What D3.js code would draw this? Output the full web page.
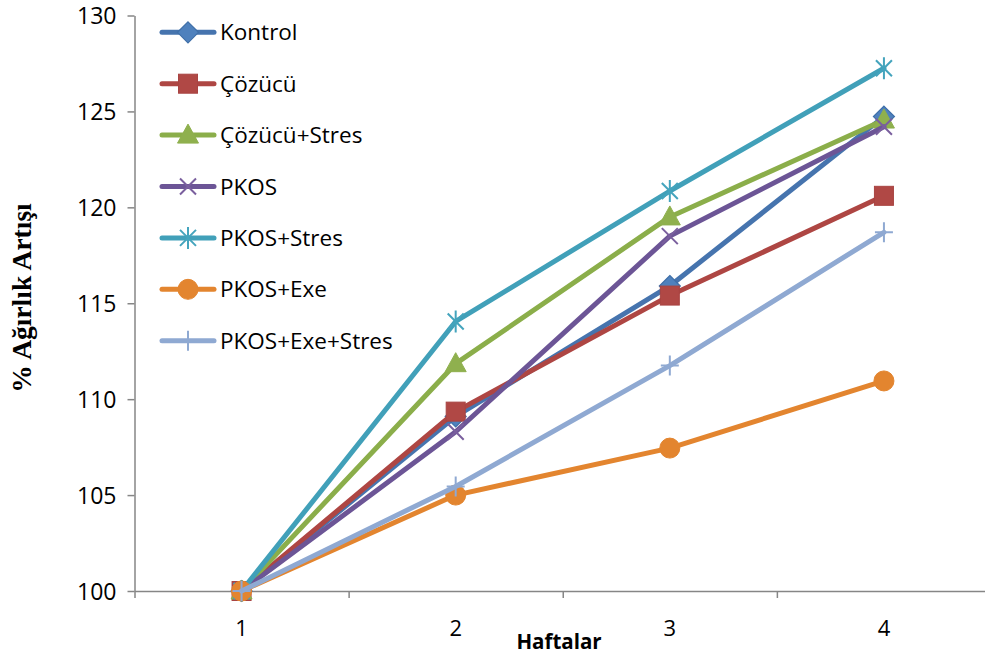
<!DOCTYPE html>
<html>
<head>
<meta charset="utf-8">
<script src="https://cdn.jsdelivr.net/npm/d3@7"></script>
<style>
  html, body { margin: 0; padding: 0; background: #fff; }
  svg { display: block; }
</style>
</head>
<body>
<svg id="chart" width="985" height="657"></svg>
<script>
// Weeks on the x axis
const weeks = [1, 2, 3, 4];

// Group names (legend order = drawing order)
const groups = ["Kontrol", "Çözücü", "Çözücü+Stres", "PKOS", "PKOS+Stres", "PKOS+Exe", "PKOS+Exe+Stres"];

// % weight gain per group, one value per week
const kontrol        = [100, 109.1, 115.9, 124.73];
const cozucu         = [100, 109.35, 115.4, 120.6];
const cozucuStres    = [100, 111.85, 119.5, 124.55];
const pkos           = [100, 108.3, 118.5, 124.2];
const pkosStres      = [100, 114.05, 120.85, 127.25];
const pkosExe        = [100, 105.0, 107.45, 110.95];
const pkosExeStres   = [100, 105.45, 111.75, 118.7];

// y-axis tick values
const yTicks = [100, 105, 110, 115, 120, 125, 130];

const seriesValues = [kontrol, cozucu, cozucuStres, pkos, pkosStres, pkosExe, pkosExeStres];

// Line colours and marker styles per group
const lineColors   = ["#4674AE", "#AE4643", "#8BAE4A", "#6C5596", "#41A0B9", "#E3852F", "#8FA9D2"];
const markerColors = ["#4F81BD", "#B04845", "#8FB04E", "#7A5F9E", "#44A4BD", "#E3852F", "#8FA9D2"];
const markerTypes  = ["diamond", "square", "triangle", "x", "star", "circle", "plus"];

const svg = d3.select("#chart");
const font = "'Open Sans', 'Noto Sans', sans-serif";
const axisColor = "#868686";

const plotLeft = 134.5, plotRight = 991, plotTop = 15.5, plotBottom = 591;

const x = d3.scaleBand().domain(weeks).range([plotLeft, plotRight]);
const xEdges = d3.scaleLinear().domain([0, weeks.length]).range([plotLeft, plotRight]);
const y = d3.scaleLinear().domain([100, 130]).range([plotBottom, plotTop]);

// y axis
const yAxis = svg.append("g")
  .attr("transform", `translate(${plotLeft},0)`)
  .call(d3.axisLeft(y).tickValues(yTicks).tickSize(7).tickSizeOuter(0).tickPadding(11));
yAxis.select(".domain").attr("stroke", axisColor).attr("stroke-width", 1.5);
yAxis.selectAll(".tick line").attr("stroke", axisColor).attr("stroke-width", 1.5);
yAxis.selectAll(".tick text")
  .attr("font-family", font).attr("font-size", 23).attr("fill", "#000")
  .attr("dy", "0.36em");

// x axis: tick marks at category boundaries
const xAxisTicks = svg.append("g")
  .attr("transform", `translate(0,${plotBottom})`)
  .call(d3.axisBottom(xEdges).tickValues(d3.range(0, weeks.length + 1)).tickSize(7).tickSizeOuter(0).tickFormat(""));
xAxisTicks.select(".domain").attr("stroke", axisColor).attr("stroke-width", 1.5);
xAxisTicks.selectAll(".tick line").attr("stroke", axisColor).attr("stroke-width", 1.5);

// x axis: category labels centred in each band
const xAxisLabels = svg.append("g")
  .attr("transform", `translate(0,${plotBottom})`)
  .call(d3.axisBottom(x).tickSize(0).tickPadding(37));
xAxisLabels.select(".domain").remove();
xAxisLabels.selectAll(".tick text")
  .attr("font-family", font).attr("font-size", 22).attr("fill", "#000")
  .attr("dy", "0.36em");

// Axis titles
svg.append("text")
  .attr("x", 559).attr("y", 649)
  .attr("text-anchor", "middle")
  .attr("font-family", font).attr("font-weight", "bold").attr("font-size", 20.5)
  .attr("fill", "#000")
  .text("Haftalar");

svg.append("text")
  .attr("transform", "translate(31,298) rotate(-90)")
  .attr("text-anchor", "middle")
  .attr("font-family", "'Liberation Serif', 'Times New Roman', serif")
  .attr("font-weight", "bold").attr("font-size", 27.5)
  .attr("fill", "#000")
  .text("% Ağırlık Artışı");

// Marker drawing helper
function drawMarker(g, type, cx, cy, color) {
  const m = g.append("g").attr("transform", `translate(${cx},${cy})`);
  if (type === "diamond") {
    m.append("path").attr("d", "M0,-10.5L10.5,0L0,10.5L-10.5,0Z")
      .attr("fill", color).attr("stroke", "#3F6FA8").attr("stroke-width", 1.2);
  } else if (type === "square") {
    m.append("rect").attr("x", -9.5).attr("y", -9.5).attr("width", 19).attr("height", 19)
      .attr("fill", color).attr("stroke", "#A84442").attr("stroke-width", 1);
  } else if (type === "triangle") {
    m.append("path").attr("d", "M0,-11L10.5,8L-10.5,8Z")
      .attr("fill", color).attr("stroke", color).attr("stroke-width", 1);
  } else if (type === "circle") {
    m.append("circle").attr("r", 10).attr("fill", color).attr("stroke", color);
  } else if (type === "x") {
    m.append("path").attr("d", "M-8,-8L8,8M-8,8L8,-8")
      .attr("stroke", color).attr("stroke-width", 2).attr("fill", "none");
  } else if (type === "star") {
    m.append("path").attr("d", "M-8,-8L8,8M-8,8L8,-8M0,-11L0,11")
      .attr("stroke", color).attr("stroke-width", 2).attr("fill", "none");
  } else if (type === "plus") {
    m.append("path").attr("d", "M-9,0L9,0M0,-10L0,10")
      .attr("stroke", color).attr("stroke-width", 2).attr("fill", "none");
  }
}

const line = d3.line()
  .x((d, i) => x(weeks[i]) + x.bandwidth() / 2)
  .y(d => y(d));

// Series lines and markers
const plot = svg.append("g");
groups.forEach((name, s) => {
  const g = plot.append("g");
  g.append("path")
    .datum(seriesValues[s])
    .attr("d", line)
    .attr("fill", "none")
    .attr("stroke", lineColors[s])
    .attr("stroke-width", 5)
    .attr("stroke-linejoin", "round")
    .attr("stroke-linecap", "round");
  seriesValues[s].forEach((v, i) => {
    drawMarker(g, markerTypes[s], x(weeks[i]) + x.bandwidth() / 2, y(v), markerColors[s]);
  });
});

// Legend
const legend = svg.append("g");
groups.forEach((name, s) => {
  const ly = 32.3 + s * 51.4;
  const g = legend.append("g");
  g.append("line")
    .attr("x1", 162).attr("x2", 214).attr("y1", ly).attr("y2", ly)
    .attr("stroke", lineColors[s]).attr("stroke-width", 5).attr("stroke-linecap", "round");
  drawMarker(g, markerTypes[s], 188, ly, markerColors[s]);
  g.append("text")
    .attr("x", 220).attr("y", ly).attr("dy", "0.36em")
    .attr("font-family", font).attr("font-size", 22.5).attr("fill", "#000")
    .text(name);
});
</script>
</body>
</html>
